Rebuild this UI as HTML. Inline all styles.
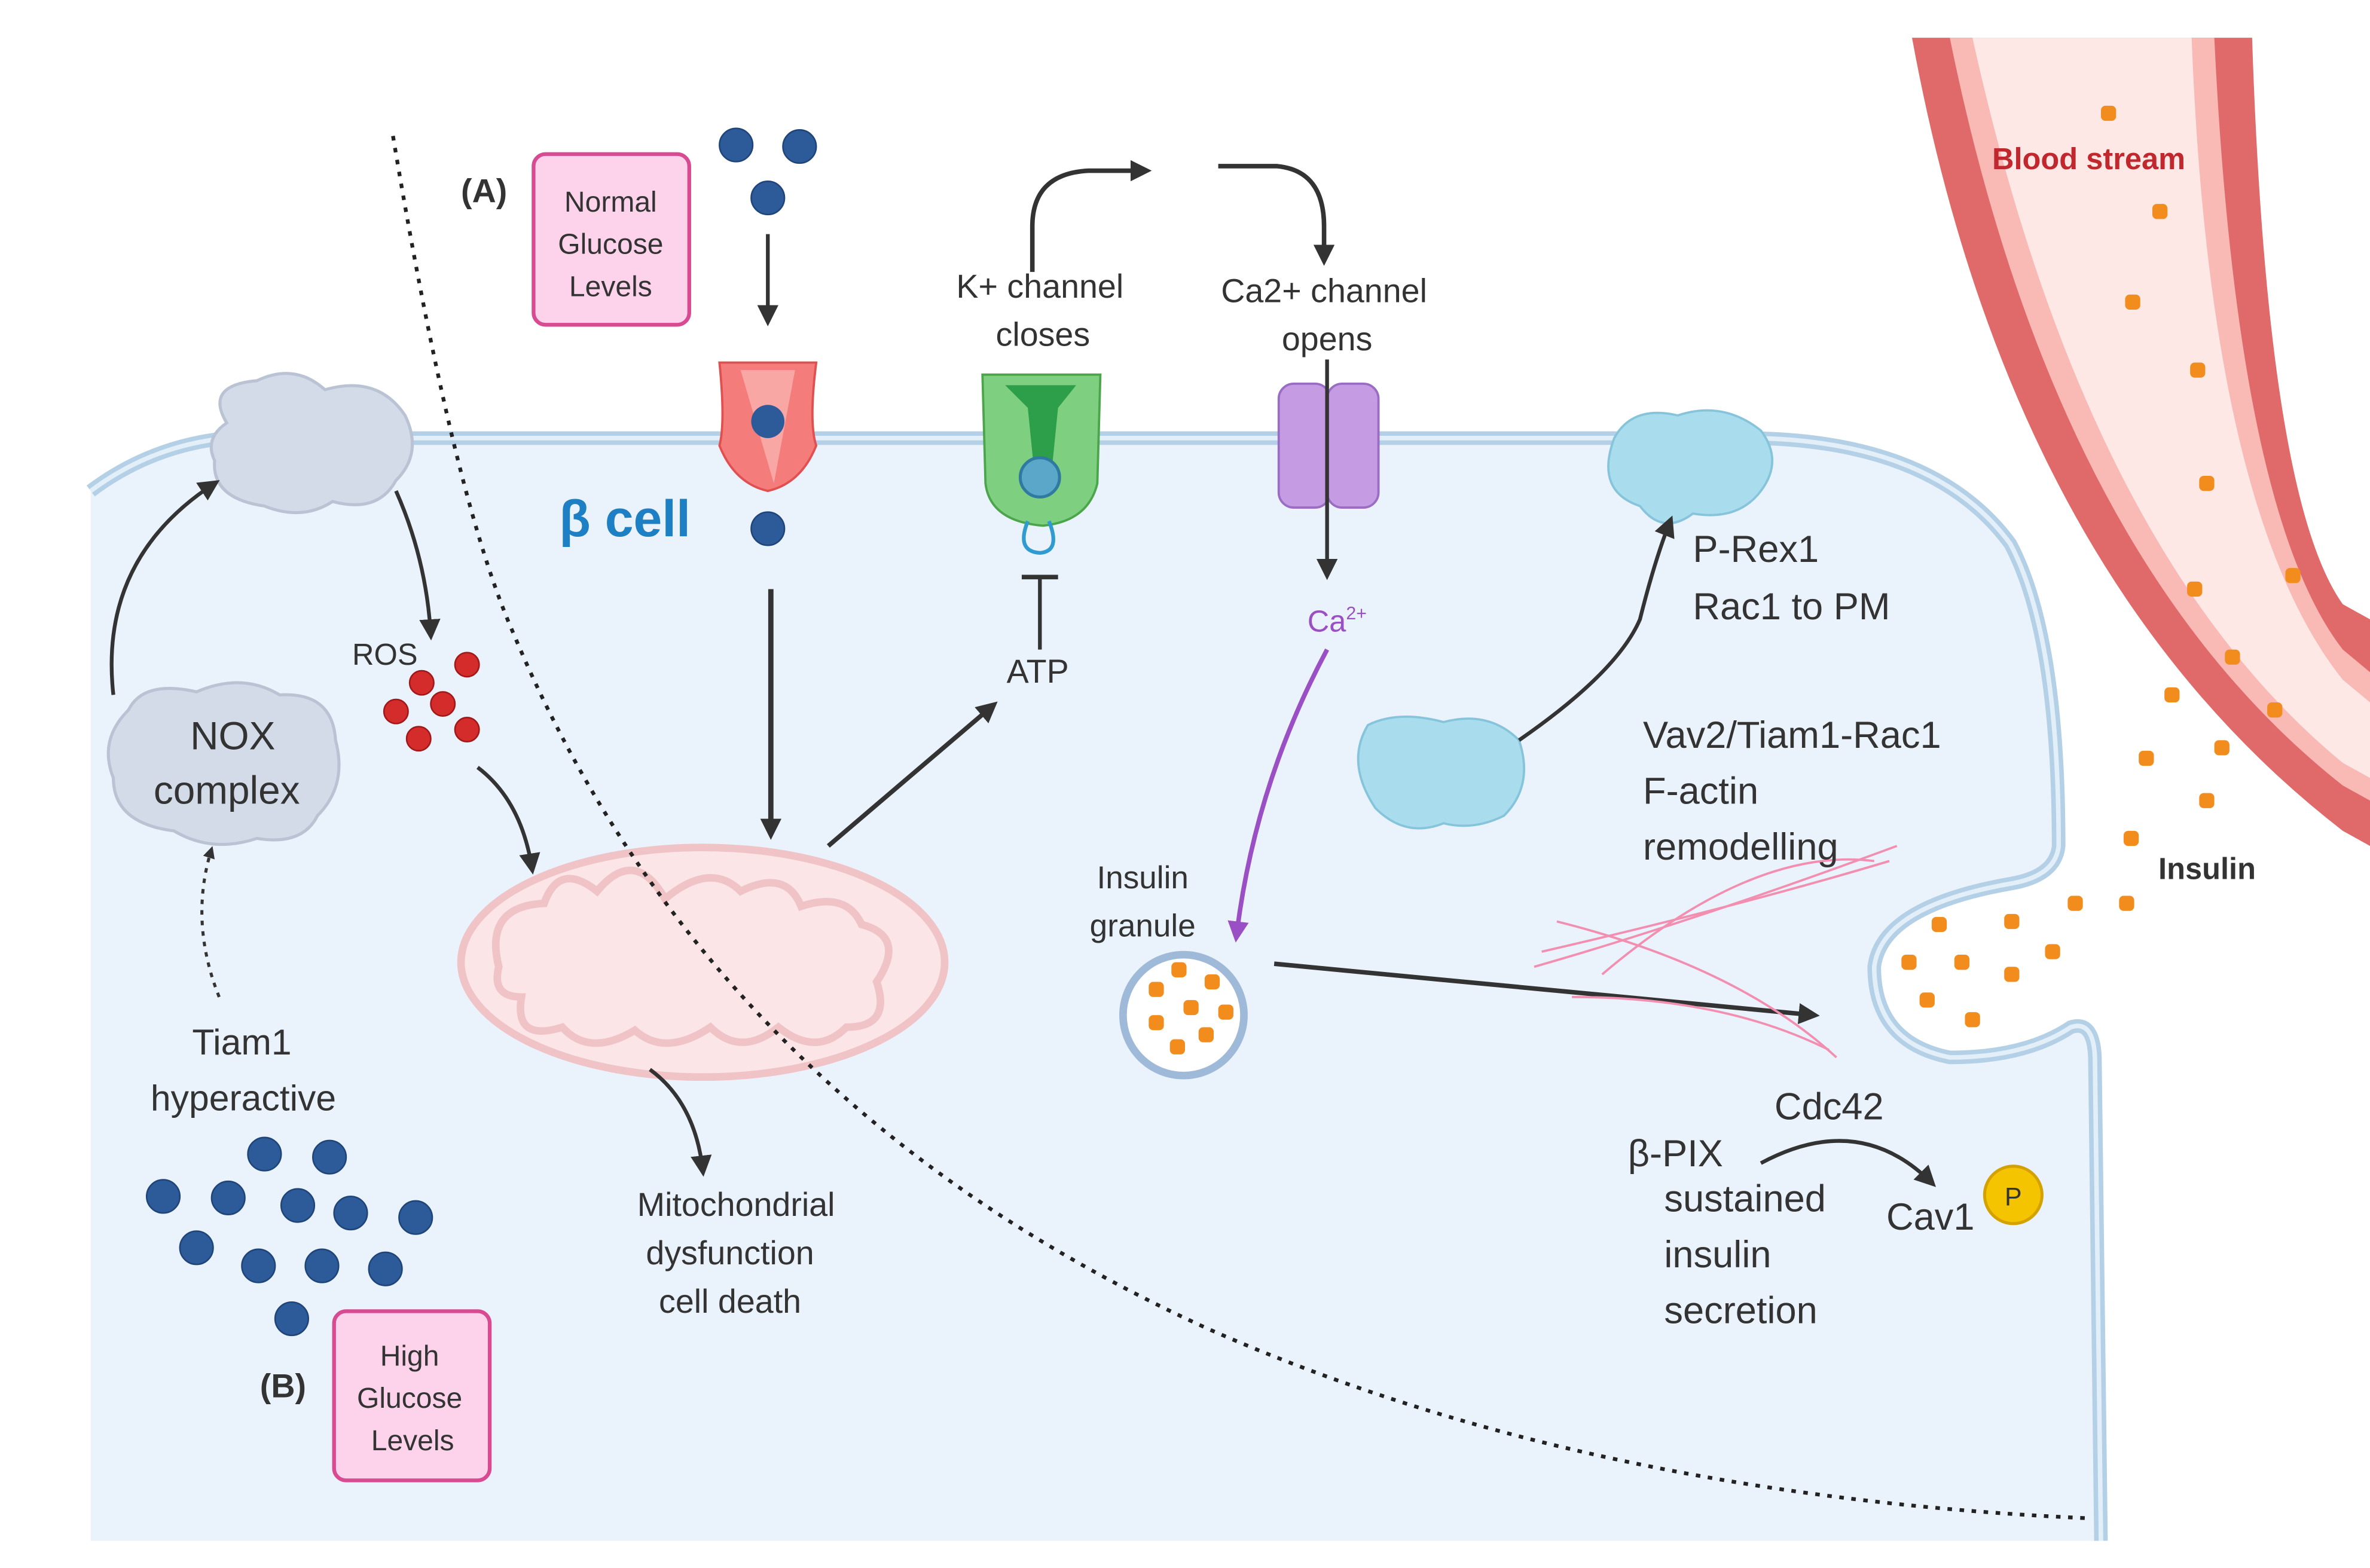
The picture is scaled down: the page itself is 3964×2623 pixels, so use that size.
<!DOCTYPE html>
<html><head><meta charset="utf-8"><style>
html,body{margin:0;padding:0;background:#fff;}
svg{display:block;}
text{font-family:"Liberation Sans",sans-serif;fill:#333;}
</style></head><body>
<svg width="3964" height="2623" viewBox="0 0 1568 1038" preserveAspectRatio="none" xmlns="http://www.w3.org/2000/svg">
<defs>
<marker id="ah" markerWidth="8" markerHeight="8" refX="6" refY="4" orient="auto" markerUnits="userSpaceOnUse" viewBox="0 0 8 8"><path d="M0,0 L8,4 L0,8 z" fill="#333"/></marker>
<marker id="ah2" markerWidth="14" markerHeight="14" refX="10" refY="7" orient="auto" markerUnits="userSpaceOnUse"><path d="M0,0 L14,7 L0,14 z" fill="#333"/></marker>
<marker id="ahp" markerWidth="14" markerHeight="14" refX="10" refY="7" orient="auto" markerUnits="userSpaceOnUse"><path d="M0,0 L14,7 L0,14 z" fill="#9b4fc4"/></marker>
</defs>
<rect width="1568" height="1038" fill="#fff"/>
<!-- cell -->
<path d="M60,1020 L60,325 Q100,295 150,290 L1160,290 Q1280,292 1330,360 Q1362,420 1362,560 Q1360,580 1330,585 Q1245,600 1240,640 Q1240,690 1290,700 Q1340,700 1370,680 Q1385,675 1386,700 L1390,1020 Z" fill="#eaf2fb"/>
<path d="M60,325 Q100,295 150,290 L1160,290 Q1280,292 1330,360 Q1362,420 1362,560 Q1360,580 1330,585 Q1245,600 1240,640 Q1240,690 1290,700 Q1340,700 1370,680 Q1385,675 1386,700 L1390,1020" fill="none" stroke="#b3d0e6" stroke-width="9"/>
<path d="M60,325 Q100,295 150,290 L1160,290 Q1280,292 1330,360 Q1362,420 1362,560 Q1360,580 1330,585 Q1245,600 1240,640 Q1240,690 1290,700 Q1340,700 1370,680 Q1385,675 1386,700 L1390,1020" fill="none" stroke="#e3eff8" stroke-width="3"/>
<!-- blood vessel -->
<path d="M1265,25 L1490,25 Q1500,330 1550,400 L1568,410 L1568,560 L1550,550 Q1330,380 1265,25 Z" fill="#e06a6a"/>
<path d="M1290,25 L1465,25 Q1480,340 1550,430 L1568,445 L1568,530 L1550,520 Q1360,370 1290,25 Z" fill="#f9b9b5"/>
<path d="M1305,25 L1450,25 Q1462,340 1550,450 L1568,465 L1568,515 L1550,505 Q1380,365 1305,25 Z" fill="#fde8e6"/>
<text x="1318" y="112" font-size="20" font-weight="bold" style="fill:#c0282d">Blood stream</text>
<g fill="#f28c1c">
<rect x="1390" y="70" width="10" height="10" rx="3"/><rect x="1424" y="135" width="10" height="10" rx="3"/><rect x="1406" y="195" width="10" height="10" rx="3"/><rect x="1449" y="240" width="10" height="10" rx="3"/><rect x="1455" y="315" width="10" height="10" rx="3"/><rect x="1447" y="385" width="10" height="10" rx="3"/><rect x="1512" y="376" width="10" height="10" rx="3"/><rect x="1472" y="430" width="10" height="10" rx="3"/><rect x="1500" y="465" width="10" height="10" rx="3"/><rect x="1432" y="455" width="10" height="10" rx="3"/><rect x="1415" y="497" width="10" height="10" rx="3"/><rect x="1465" y="490" width="10" height="10" rx="3"/><rect x="1455" y="525" width="10" height="10" rx="3"/><rect x="1405" y="550" width="10" height="10" rx="3"/><rect x="1368" y="593" width="10" height="10" rx="3"/><rect x="1402" y="593" width="10" height="10" rx="3"/>
<rect x="1278" y="607" width="10" height="10" rx="3"/><rect x="1326" y="605" width="10" height="10" rx="3"/><rect x="1258" y="632" width="10" height="10" rx="3"/><rect x="1293" y="632" width="10" height="10" rx="3"/><rect x="1326" y="640" width="10" height="10" rx="3"/><rect x="1353" y="625" width="10" height="10" rx="3"/><rect x="1270" y="657" width="10" height="10" rx="3"/><rect x="1300" y="670" width="10" height="10" rx="3"/>
</g>
<text x="1428" y="582" font-size="20" font-weight="bold">Insulin</text>
<!-- text boxes -->
<rect x="353" y="102" width="103" height="113" rx="8" fill="#fcd3ea" stroke="#d84a92" stroke-width="2.5"/>
<text font-size="19" text-anchor="middle"><tspan x="404" y="140">Normal</tspan><tspan x="404" y="168">Glucose</tspan><tspan x="404" y="196">Levels</tspan></text>
<text x="305" y="134" font-size="22" font-weight="bold">(A)</text>
<rect x="221" y="868" width="103" height="112" rx="8" fill="#fcd3ea" stroke="#d84a92" stroke-width="2.5"/>
<text font-size="19" text-anchor="middle"><tspan x="271" y="904">High</tspan><tspan x="271" y="932">Glucose</tspan><tspan x="273" y="960">Levels</tspan></text>
<text x="172" y="925" font-size="22" font-weight="bold">(B)</text>
<!-- glucose blue dots -->
<g fill="#2d5b9a" stroke="#1f4478" stroke-width="1">
<circle cx="487" cy="96" r="11"/><circle cx="529" cy="97" r="11"/><circle cx="508" cy="131" r="11"/><circle cx="508" cy="350" r="11"/>
<circle cx="175" cy="764" r="11"/><circle cx="218" cy="766" r="11"/><circle cx="108" cy="792" r="11"/><circle cx="151" cy="793" r="11"/><circle cx="197" cy="798" r="11"/><circle cx="232" cy="803" r="11"/><circle cx="275" cy="806" r="11"/><circle cx="130" cy="826" r="11"/><circle cx="171" cy="838" r="11"/><circle cx="213" cy="838" r="11"/><circle cx="255" cy="840" r="11"/><circle cx="193" cy="873" r="11"/>
</g>
<!-- GLUT transporter -->
<path d="M476,240 L540,240 Q535,280 540,295 Q530,320 508,325 Q486,320 476,295 Q480,280 476,240 Z" fill="#f47c7a" stroke="#e05050" stroke-width="1.5"/>
<path d="M490,245 L526,245 L512,320 Z" fill="#f9a7a4"/>
<circle cx="508" cy="279" r="11" fill="#2d5b9a"/>
<line x1="508" y1="155" x2="508" y2="212" stroke="#333" stroke-width="2.5" marker-end="url(#ah2)"/>
<text x="370" y="355" font-size="34" font-weight="bold" style="fill:#1d7fc4">β cell</text>
<line x1="510" y1="390" x2="510" y2="552" stroke="#333" stroke-width="3.5" marker-end="url(#ah2)"/>
<!-- K channel -->
<path d="M650,248 L728,248 L726,320 Q720,345 690,348 Q655,345 652,320 Z" fill="#7fcf80" stroke="#4aa54b" stroke-width="1.5"/>
<path d="M665,255 L712,255 L700,270 L695,320 L685,320 L680,270 Z" fill="#2d9e4a"/>
<circle cx="688" cy="316" r="13" fill="#5aa7c9" stroke="#2f7aa0" stroke-width="2"/>
<path d="M680,345 Q672,365 688,366 Q702,365 694,345" fill="none" stroke="#2f9bd0" stroke-width="2.5"/>
<path d="M683,180 L683,150 Q683,115 720,113 L758,113" fill="none" stroke="#333" stroke-width="3" marker-end="url(#ah2)"/>
<text font-size="22" text-anchor="middle"><tspan x="688" y="197">K+ channel</tspan><tspan x="690" y="229">closes</tspan></text>
<line x1="688" y1="430" x2="688" y2="382" stroke="#333" stroke-width="2.5"/><line x1="676" y1="382" x2="700" y2="382" stroke="#333" stroke-width="3"/>
<text x="666" y="452" font-size="22">ATP</text>
<line x1="548" y1="560" x2="657" y2="467" stroke="#333" stroke-width="3" marker-end="url(#ah2)"/>
<!-- Ca channel -->
<rect x="846" y="254" width="34" height="82" rx="10" fill="#c59be4" stroke="#9a6cc4" stroke-width="1.5"/>
<rect x="878" y="254" width="34" height="82" rx="10" fill="#c59be4" stroke="#9a6cc4" stroke-width="1.5"/>
<path d="M806,110 L845,110 Q876,113 876,150 L876,172" fill="none" stroke="#333" stroke-width="3" marker-end="url(#ah2)"/>
<text font-size="22" text-anchor="middle"><tspan x="876" y="200">Ca2+ channel</tspan><tspan x="878" y="232">opens</tspan></text>
<line x1="878" y1="238" x2="878" y2="380" stroke="#333" stroke-width="2.5" marker-end="url(#ah2)"/>
<text x="865" y="418" font-size="20" style="fill:#9b4fc4">Ca<tspan font-size="12" dy="-8">2+</tspan></text>
<path d="M878,430 Q830,520 818,620" fill="none" stroke="#9b4fc4" stroke-width="3" marker-end="url(#ahp)"/>
<!-- granule -->
<text font-size="21" text-anchor="middle"><tspan x="756" y="588">Insulin</tspan><tspan x="756" y="620">granule</tspan></text>
<circle cx="783" cy="672" r="40" fill="#fff" stroke="#9fb9d8" stroke-width="5"/>
<g fill="#f28c1c"><rect x="775" y="637" width="10" height="10" rx="3"/><rect x="797" y="645" width="10" height="10" rx="3"/><rect x="760" y="650" width="10" height="10" rx="3"/><rect x="783" y="662" width="10" height="10" rx="3"/><rect x="806" y="665" width="10" height="10" rx="3"/><rect x="760" y="672" width="10" height="10" rx="3"/><rect x="793" y="680" width="10" height="10" rx="3"/><rect x="774" y="688" width="10" height="10" rx="3"/></g>
<line x1="843" y1="638" x2="1200" y2="672" stroke="#333" stroke-width="3" marker-end="url(#ah2)"/>
<!-- actin -->
<g fill="none" stroke="#f28fb0" stroke-width="1.5">
<path d="M1015,640 Q1120,610 1255,560"/><path d="M1020,630 Q1150,600 1250,570"/><path d="M1030,610 Q1150,640 1215,700"/><path d="M1040,660 Q1140,660 1210,695"/><path d="M1060,645 Q1160,560 1240,570"/>
</g>
<!-- mitochondrion -->
<ellipse cx="465" cy="637" rx="160" ry="76" fill="#fbe5e7" stroke="#f0c3c6" stroke-width="5"/>
<path d="M330,640 Q320,600 360,598 Q370,570 395,590 Q420,560 440,595 Q470,570 490,590 Q520,575 530,600 Q560,590 570,612 Q600,620 580,650 Q590,680 560,680 Q540,700 515,680 Q490,700 470,680 Q440,700 420,682 Q390,700 372,680 Q340,690 345,660 Q325,660 330,640 Z" fill="none" stroke="#f0c3c6" stroke-width="5"/>
<!-- dotted line -->
<path d="M260,90 Q300,330 340,420 Q470,730 800,880 Q1050,990 1380,1005" fill="none" stroke="#222" stroke-width="2.5" stroke-dasharray="3,5"/>
<path d="M430,708 Q460,730 465,775" fill="none" stroke="#333" stroke-width="2.5" marker-end="url(#ah2)"/>
<text font-size="22" text-anchor="middle"><tspan x="487" y="805">Mitochondrial</tspan><tspan x="483" y="837">dysfunction</tspan><tspan x="483" y="869">cell death</tspan></text>
<!-- NOX clouds -->
<g fill="#d3dbe8" stroke="#b9c3d3" stroke-width="2">
<path d="M150,280 Q135,255 170,252 Q195,240 215,258 Q250,248 268,275 Q280,300 262,318 Q250,340 220,332 Q200,345 175,335 Q140,330 142,305 Q135,290 150,280 Z"/>
<path d="M85,470 Q95,450 130,458 Q160,445 185,460 Q220,458 222,490 Q230,520 210,540 Q200,560 170,555 Q140,565 115,550 Q75,545 75,515 Q65,490 85,470 Z"/>
</g>
<text font-size="26" text-anchor="middle"><tspan x="154" y="496">NOX</tspan><tspan x="150" y="532">complex</tspan></text>
<path d="M75,460 Q65,370 142,320" fill="none" stroke="#333" stroke-width="2.5" marker-end="url(#ah2)"/>
<path d="M145,660 Q125,610 140,562" fill="none" stroke="#333" stroke-width="2" stroke-dasharray="3,4" marker-end="url(#ah)"/>
<text font-size="24" text-anchor="middle"><tspan x="160" y="698">Tiam1</tspan><tspan x="161" y="735">hyperactive</tspan></text>
<path d="M262,325 Q282,370 285,420" fill="none" stroke="#333" stroke-width="2.5" marker-end="url(#ah2)"/>
<text x="233" y="440" font-size="20">ROS</text>
<g fill="#d42b2b" stroke="#a01818" stroke-width="1"><circle cx="309" cy="440" r="8"/><circle cx="279" cy="452" r="8"/><circle cx="293" cy="466" r="8"/><circle cx="262" cy="471" r="8"/><circle cx="309" cy="483" r="8"/><circle cx="277" cy="489" r="8"/></g>
<path d="M316,508 Q345,530 352,575" fill="none" stroke="#333" stroke-width="2.5" marker-end="url(#ah2)"/>
<!-- Rac1 clouds -->
<g fill="#a9dcec" stroke="#86c4dc" stroke-width="1.5">
<path d="M1068,290 Q1080,268 1110,275 Q1140,265 1165,285 Q1180,305 1165,325 Q1150,345 1120,340 Q1100,355 1085,335 Q1055,325 1068,290 Z"/>
<path d="M905,480 Q925,470 955,478 Q985,470 1005,490 Q1015,520 995,540 Q975,550 955,545 Q930,555 910,535 Q890,505 905,480 Z"/>
</g>
<path d="M1005,490 Q1070,445 1085,410 Q1095,370 1105,345" fill="none" stroke="#333" stroke-width="2.5" marker-end="url(#ah2)"/>
<text font-size="25"><tspan x="1120" y="372">P-Rex1</tspan><tspan x="1120" y="410">Rac1 to PM</tspan></text>
<text font-size="25"><tspan x="1087" y="495">Vav2/Tiam1-Rac1</tspan><tspan x="1087" y="532">F-actin</tspan><tspan x="1087" y="569">remodelling</tspan></text>
<text x="1174" y="741" font-size="25">Cdc42</text>
<text x="1077" y="772" font-size="25">β-PIX</text>
<path d="M1165,770 Q1230,735 1278,783" fill="none" stroke="#333" stroke-width="2.5" marker-end="url(#ah2)"/>
<text font-size="25"><tspan x="1101" y="802">sustained</tspan><tspan x="1101" y="839">insulin</tspan><tspan x="1101" y="876">secretion</tspan></text>
<text x="1248" y="814" font-size="25">Cav1</text>
<circle cx="1332" cy="791" r="19" fill="#f5c400" stroke="#d4a200" stroke-width="2"/>
<text x="1332" y="798" font-size="17" text-anchor="middle">P</text>
</svg>
</body></html>
